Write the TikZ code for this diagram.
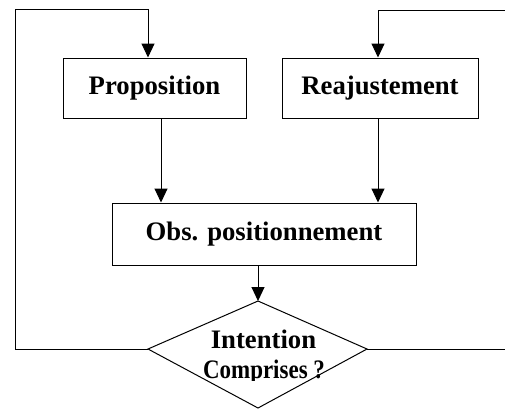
\documentclass[tikz,border=0pt]{standalone}
\usepackage{fontspec}
\setmainfont{Liberation Serif}
\usetikzlibrary{arrows.meta}
\begin{document}
\begin{tikzpicture}[x=1bp, y=-1bp, line width=1bp,
  flow/.style={-{Triangle[length=14bp,width=13bp]}},
  txt/.style={font=\fontsize{26.7bp}{32bp}\selectfont\bfseries},
  box/.style={draw, txt, inner sep=0pt},
  dtext/.style={txt, inner sep=0pt, anchor=base}]
\useasboundingbox (0,0) rectangle (505,410);
\clip (0,0) rectangle (505,410);

% process boxes
\node[box, minimum width=183bp, minimum height=60bp] (prop) at (154.5,88) {Proposition};
\node[box, minimum width=196bp, minimum height=60bp] (reaj) at (380,88) {Reajustement};
\node[box, minimum width=304bp, minimum height=62bp] (obs) at (264,234) {Obs. positionnement};

% decision diamond
\coordinate (dT) at (258,301);
\coordinate (dR) at (367,349);
\coordinate (dB) at (258,408);
\coordinate (dL) at (148,349);
\draw (dT) -- (dR) -- (dB) -- (dL) -- cycle;
\begin{scope}
  \clip (148,290) rectangle (367,380);
  \node[dtext] (intent) at (263.5,348) {Intention};
  \node[dtext] (compr) at (264,378.7) {\scalebox{0.86}[1]{Comprises ?}};
\end{scope}

% feedback loops
\coordinate (lb) at (15,349);
\coordinate (lt) at (15,9);
\coordinate (tl) at (148,9);
\draw[flow] (dL) -- (lb) -- (lt) -- (tl) -- (tl |- prop.north);

\coordinate (rb) at (512,349);
\coordinate (rt) at (512,10);
\coordinate (tr) at (378,10);
\draw[flow] (dR) -- (rb) -- (rt) -- (tr) -- (tr |- reaj.north);

% forward flow
\coordinate (pa) at (161,0);
\coordinate (ra) at (378,0);
\draw[flow] (pa |- prop.south) -- (pa |- obs.north);
\draw[flow] (ra |- reaj.south) -- (ra |- obs.north);
\draw[flow] (dT |- obs.south) -- (dT);
\end{tikzpicture}
\end{document}
